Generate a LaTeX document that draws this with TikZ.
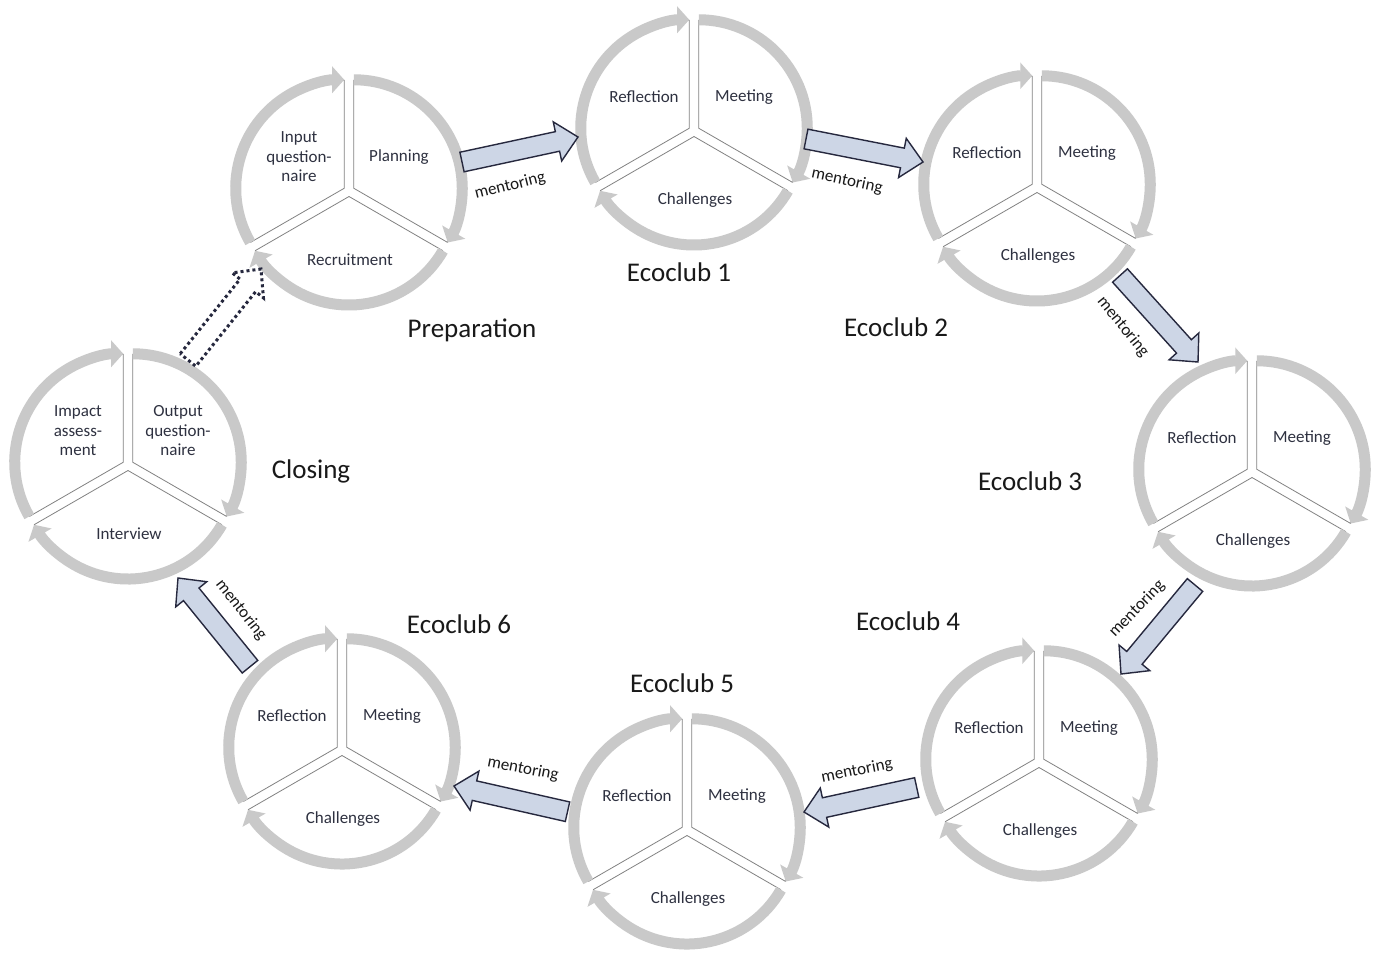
\documentclass[tikz,border=0pt]{standalone}
\usepackage{fontspec}
\setmainfont{Carlito}
\usetikzlibrary{calc,arrows.meta}
\definecolor{bandgray}{RGB}{201,201,201}
\definecolor{linegray}{RGB}{130,130,130}
\definecolor{txt}{RGB}{46,49,64}
\definecolor{afill}{RGB}{205,214,230}
\definecolor{aline}{RGB}{38,40,62}
\tikzset{
  sector/.style={fill=white,draw=linegray,line width=0.8pt},
  band/.style={draw=bandgray,line width=11pt,-{Triangle[length=12pt,width=26pt]}},
  sectxt/.style={font=\fontsize{17}{19.5}\selectfont,text=txt,align=center,inner sep=0pt},
  title/.style={font=\fontsize{27}{30}\selectfont,text=black!90,inner sep=0pt},
  mlabel/.style={font=\fontsize{17}{19}\selectfont,text=black!90,inner sep=0pt},
  marrow/.style={fill=afill,draw=aline,line width=1.4pt,line join=miter},
  dotarrow/.style={draw=aline,line width=3pt,dash pattern=on 3pt off 3pt,line join=miter}
}
\newcommand\segcycle[5]{%
  \coordinate (#1) at (#2);
  \foreach \sa/\ea/\ba in {210/90/150,90/-30/30,-30/-150/270}{
    \filldraw[sector] ($(#1)+(\ba:5.5)$) -- ++(\sa:108) arc[start angle=\sa,end angle=\ea,radius=108] -- cycle;
  }
  \foreach \sa/\ea/\ba in {210/90/150,90/-30/30,-30/-150/270}{
    \draw[band] ($(#1)+(\ba:5.5)+(\sa:108.5)$) arc[start angle=\sa,end angle=\ea,radius=108.5];
  }
  \node[sectxt] (#1-l) at ($(#1)+(-50,34)$) {#3};
  \node[sectxt] (#1-r) at ($(#1)+(50,34)$) {#4};
  \node[sectxt] (#1-b) at ($(#1)+(1,-69)$) {#5};
}
\newcommand\blockarrow[3]{%
  \coordinate (#1hb) at ($(#2)!21pt!(#1)$);
  \draw[#3] ($(#1)!10pt!90:(#2)$) -- ($(#1hb)!10pt!-90:(#1)$) -- ($(#1hb)!20pt!-90:(#1)$)
    -- (#2) -- ($(#1hb)!20pt!90:(#1)$) -- ($(#1hb)!10pt!90:(#1)$) -- ($(#1)!10pt!-90:(#2)$) -- cycle;
}
\begin{document}
\begin{tikzpicture}[x=1pt,y=1pt]
\useasboundingbox (0,0) rectangle (1383,-954);
\fill[white] (0,0) rectangle (1383,-954);

\segcycle{prep}{349,-191}{Input\\question-\\naire}{Planning}{Recruitment}
\segcycle{eco1}{694,-131}{Reflection}{Meeting}{Challenges}
\segcycle{eco2}{1037,-187}{Reflection}{Meeting}{Challenges}
\segcycle{eco3}{1252,-472}{Reflection}{Meeting}{Challenges}
\segcycle{eco4}{1039,-762}{Reflection}{Meeting}{Challenges}
\segcycle{eco5}{687,-830}{Reflection}{Meeting}{Challenges}
\segcycle{eco6}{342,-750}{Reflection}{Meeting}{Challenges}
\segcycle{clos}{128,-465}{Impact\\assess-\\ment}{Output\\question-\\naire}{Interview}

\node[title] (tprep) at (472,-330) {Preparation};
\node[title] (teco1) at (679,-272) {Ecoclub 1};
\node[title] (teco2) at (896,-327) {Ecoclub 2};
\node[title] (teco3) at (1030,-481) {Ecoclub 3};
\node[title] (teco4) at (908,-621) {Ecoclub 4};
\node[title] (teco5) at (682,-683) {Ecoclub 5};
\node[title] (teco6) at (459,-624) {Ecoclub 6};
\node[title] (tclos) at (311,-471) {Closing};

\coordinate (a1t) at (462,-162); \coordinate (a1h) at (578,-137);
\coordinate (a2t) at (806,-139); \coordinate (a2h) at (923,-162);
\coordinate (a3t) at (1120,-275.5); \coordinate (a3h) at (1198,-362);
\coordinate (a4t) at (1195,-585); \coordinate (a4h) at (1121,-674);
\coordinate (a5t) at (916.7,-787.5); \coordinate (a5h) at (804,-812);
\coordinate (a6t) at (567.5,-811.7); \coordinate (a6h) at (454,-786);
\coordinate (a7t) at (250,-666.7); \coordinate (a7h) at (178,-578);
\coordinate (a8t) at (188,-360); \coordinate (a8h) at (261,-269);

\blockarrow{a1t}{a1h}{marrow}
\blockarrow{a2t}{a2h}{marrow}
\blockarrow{a3t}{a3h}{marrow}
\blockarrow{a4t}{a4h}{marrow}
\blockarrow{a5t}{a5h}{marrow}
\blockarrow{a6t}{a6h}{marrow}
\blockarrow{a7t}{a7h}{marrow}
\blockarrow{a8t}{a8h}{dotarrow}

\node[mlabel,rotate=14] (m1) at (510,-186) {mentoring};
\node[mlabel,rotate=-12] (m2) at (847,-181) {mentoring};
\node[mlabel,rotate=-51] (m3) at (1123,-327) {mentoring};
\node[mlabel,rotate=46] (m4) at (1137,-609) {mentoring};
\node[mlabel,rotate=11] (m5) at (857,-771) {mentoring};
\node[mlabel,rotate=-11] (m6) at (523,-769) {mentoring};
\node[mlabel,rotate=-52] (m7) at (241,-610) {mentoring};
\end{tikzpicture}
\end{document}
